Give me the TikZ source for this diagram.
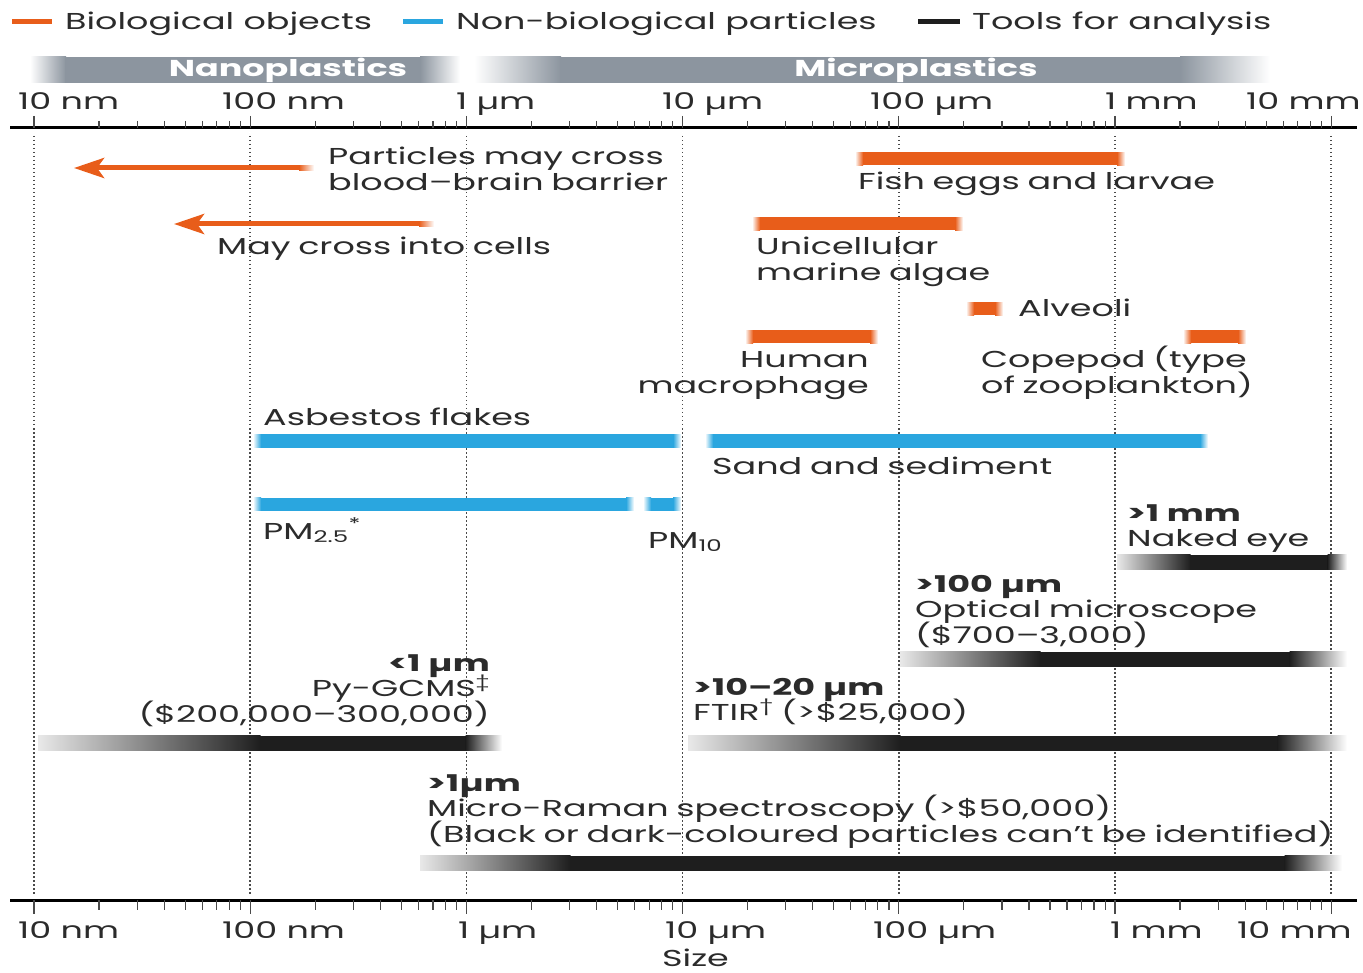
\documentclass[tikz,border=0pt]{standalone}
\usepackage{fontspec}
\setmainfont[FakeStretch=1.52]{Poppins}
\usetikzlibrary{arrows.meta}
\definecolor{bio}{HTML}{E85D1A}
\definecolor{nonbio}{HTML}{2AA6DF}
\definecolor{tool}{HTML}{1E1E1E}
\definecolor{band}{HTML}{8C959F}
\definecolor{txt}{HTML}{2B2B2B}
\definecolor{axisc}{HTML}{4A4A4A}
\newcommand\lblfont{\fontsize{23}{25.5}\selectfont\setlength{\lineskiplimit}{-20pt}}
\newcommand\fadebar[5]{% x1 x2 y color half-thickness
  \fill[#4] (#1+7.5,#3-#5) rectangle (#2-7.5,#3+#5);
  \shade[left color=white,right color=#4] (#1,#3-#5) rectangle (#1+8,#3+#5);
  \shade[left color=#4,right color=white] (#2-8,#3-#5) rectangle (#2,#3+#5);}
\newcommand\toolbar[5]{% x1 xs xe x2 y
  \shade[left color=tool!10,right color=tool] (#1,#5-7.5) rectangle (#2+0.5,#5+7.5);
  \fill[tool] (#2,#5-7.5) rectangle (#3,#5+7.5);
  \shade[left color=tool,right color=white] (#3-0.5,#5-7.5) rectangle (#4,#5+7.5);}
\begin{document}
\begin{tikzpicture}[x=1pt,y=-1pt,
  lbl/.style={inner sep=0pt,text width=1000pt,align=left,anchor=base west,
    font=\lblfont,text=txt},
  lblr/.style={lbl,align=right,anchor=base east},
  axl/.style={inner sep=0pt,anchor=base west,font=\fontsize{23}{25.5}\selectfont,text=txt},
  bandtxt/.style={inner sep=0pt,anchor=base,font=\fontsize{23}{25.5}\selectfont\bfseries,text=white},
  dotline/.style={axisc,line width=1.5pt,dash pattern=on 1.5pt off 2.5pt},
  axline/.style={black,line width=3pt},
  tick/.style={axisc,line width=1.2pt},
  legline/.style={line width=5pt},
  arr/.style={bio,line width=5pt,-{Stealth[length=30pt,width=20pt,inset=7pt]}}
]
\useasboundingbox[fill=white] (0,0) rectangle (1363,973);

% legend
\draw[legline,bio] (12,22) -- (52,22);
\node[axl] (legbio) at (65,30) {Biological objects};
\draw[legline,nonbio] (403,22) -- (443,22);
\node[axl] (legnon) at (456,30) {Non-biological particles};
\draw[legline,tool] (918,22) -- (960,22);
\node[axl] (legtool) at (972,30) {Tools for analysis};

% plastics bands
\shade[left color=white,right color=band] (30,57) rectangle (66,83);
\fill[band] (65,57) rectangle (421,83);
\shade[left color=band,right color=white] (420,57) rectangle (460,83);
\node[bandtxt] (nano) at (288,77) {Nanoplastics};
\shade[left color=white,right color=band] (474,57) rectangle (561,83);
\fill[band] (560,57) rectangle (1181,83);
\shade[left color=band,right color=white] (1180,57) rectangle (1270,83);
\node[bandtxt] (micro) at (916,77) {Microplastics};

% axes
\draw[axline] (10,128) -- (1357,128);
\draw[axline] (10,900) -- (1357,900);
\foreach \k in {0,...,6}{
  \pgfmathsetmacro\X{34+216.2*\k}
  \draw[dotline] (\X,136) -- (\X,895);
  \draw[tick] (\X,116) -- (\X,128);
  \draw[tick] (\X,900) -- (\X,914);
}
\foreach \k in {0,...,5}{
  \foreach \m in {2,...,9}{
    \pgfmathsetmacro\X{34+216.2*\k+216.2*log10(\m)}
    \draw[tick] (\X,121) -- (\X,128);
    \draw[tick] (\X,900) -- (\X,910);
  }
}
% axis labels
\node[axl] (t1) at (18,110) {10 nm};
\node[axl] (t2) at (222,110) {100 nm};
\node[axl] (t3) at (456,110) {1 µm};
\node[axl] (t4) at (662,110) {10 µm};
\node[axl] (t5) at (870,110) {100 µm};
\node[axl] (t6) at (1105,110) {1 mm};
\node[axl] (t7) at (1246,110) {10 mm};
\node[axl] (b1) at (18,938) {10 nm};
\node[axl] (b2) at (222,938) {100 nm};
\node[axl] (b3) at (458,938) {1 µm};
\node[axl] (b4) at (665,938) {10 µm};
\node[axl] (b5) at (873,938) {100 µm};
\node[axl] (b6) at (1110,938) {1 mm};
\node[axl] (b7) at (1237,938) {10 mm};
\node[axl] (size) at (662,966) {Size};

% biological
\coordinate (bbbS) at (300,168);
\coordinate (bbbE) at (74,168);
\draw[arr] (bbbS) -- (bbbE);
\shade[left color=bio,right color=white] (299,165.5) rectangle (314,170.5);
\node[lbl] (bbb) at (328,165) {Particles may cross\\blood–brain barrier};
\coordinate (cellS) at (420,224);
\coordinate (cellE) at (174,224);
\draw[arr] (cellS) -- (cellE);
\shade[left color=bio,right color=white] (419,221.5) rectangle (434,226.5);
\node[lbl] (cells) at (217,255) {May cross into cells};

\fadebar{855}{1125}{159}{bio}{6.5}
\node[lbl] (fish) at (858,190) {Fish eggs and larvae};
\fadebar{752}{963}{224}{bio}{6.5}
\node[lbl] (algae) at (756,255) {Unicellular\\marine algae};
\fadebar{966}{1003}{309}{bio}{6.5}
\node[lbl] (alv) at (1018,317) {Alveoli};
\fadebar{745}{878}{337}{bio}{6.5}
\node[lblr] (macro) at (869,368) {Human\\macrophage};
\fadebar{1183}{1246}{337}{bio}{6.5}
\node[lbl] (cope) at (981,368) {Copepod (type\\of zooplankton)};

% non-biological
\node[lbl] (asb) at (263,425) {Asbestos flakes};
\fadebar{253}{681}{441}{nonbio}{6.5}
\fadebar{705}{1208}{441}{nonbio}{6.5}
\node[lbl] (sand) at (712,474) {Sand and sediment};
\fadebar{253}{634}{504}{nonbio}{6.5}
\fadebar{643}{681}{504}{nonbio}{6.5}
\node[lbl] (pm25) at (263,539) {PM\textsubscript{2.5}\textsuperscript{*}};
\node[lbl] (pm10) at (648,548) {PM\textsubscript{10}};

% tools
\node[lbl] (eye) at (1127,521) {\textbf{>1 mm}\\Naked eye};
\toolbar{1117}{1190}{1328}{1347}{562}
\node[lbl] (opt) at (915,592) {\textbf{>100 µm}\\Optical microscope\\(\$700–3,000)};
\toolbar{900}{1040}{1290}{1347}{659}
\node[lblr] (py) at (490,671) {\textbf{<1 µm}\\Py-GCMS\textsuperscript{‡}\\(\$200,000–300,000)};
\toolbar{38}{260}{466}{502}{743}
\node[lbl] (ftir) at (693,695) {\textbf{>10–20 µm}\\FTIR\textsuperscript{†} (>\$25,000)};
\toolbar{688}{900}{1278}{1347}{743}
\node[lbl] (raman) at (427,791) {\textbf{>1µm}\\Micro-Raman spectroscopy (>\$50,000)\\(Black or dark-coloured particles can’t be identified)};
\toolbar{420}{570}{1285}{1342}{863}
\end{tikzpicture}
\end{document}
